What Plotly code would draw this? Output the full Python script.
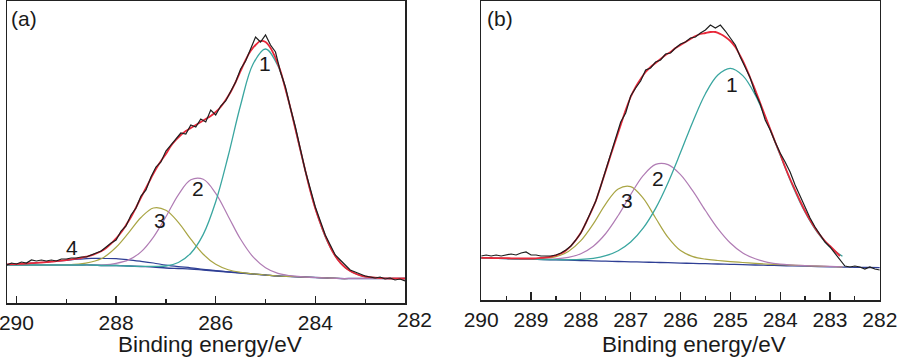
import plotly.graph_objects as go

# ---------------- Panel (a) ----------------
E_A = [290.2, 290.0, 289.75, 289.5, 289.25, 289.0, 288.75, 288.5, 288.25, 288.0,
       287.75, 287.5, 287.25, 287.0, 286.75, 286.5, 286.25, 286.0, 285.75, 285.5,
       285.25, 285.0, 284.75, 284.5, 284.25, 284.0, 283.75, 283.5, 283.25, 283.0,
       282.75, 282.5, 282.2]
BASE_A = [38, 38, 38, 38, 38, 38, 38, 38, 37.5, 37.5,
          37, 36.5, 36, 35, 34.5, 34, 33, 32, 31, 30,
          29, 28, 27, 26.5, 26, 25.5, 25, 24.5, 24.5, 24.5,
          24.5, 24.5, 24.5]
PEAK1_A = [38, 38, 38, 38, 38, 38, 38, 38, 37.5, 37.5,
           37, 36.6, 36.6, 37, 40.5, 49.8, 68.6, 101.2, 147, 198,
           239, 254, 237, 194.5, 142, 94.5, 60.6, 40.3, 30.5, 26.5,
           25.1, 24.5, 24.5]
PEAK2_A = [38, 38, 38, 38, 38, 38, 38, 38, 38.1, 39.6,
           43.1, 51.1, 65.9, 86.2, 108.2, 123.2, 123.7, 109.6, 86.8, 63.7,
           46.1, 35.3, 29.6, 27.3, 26.2, 25.5, 25, 24.5, 24.5, 24.5,
           24.5, 24.5, 24.5]
PEAK3_A = [38, 38, 38, 38, 38, 38.2, 38.9, 41, 45.6, 55.7,
           70.1, 85.5, 95, 92.8, 80.6, 63.8, 48.7, 38.7, 33.3, 30.7,
           29.2, 28, 27, 26.5, 26, 25.5, 25, 24.5, 24.5, 24.5,
           24.5, 24.5, 24.5]
PEAK4_A = [38.6, 38.9, 39.6, 40.5, 41.5, 42.7, 43.8, 44.6, 44.5, 44.3,
           43.2, 41.7, 40, 37.9, 36.4, 35.2, 33.7, 32.4, 31.2, 30,
           29, 28, 27, 26.5, 26, 25.5, 25, 24.5, 24.5, 24.5,
           24.5, 24.5, 24.5]

E_A_FINE = [290.2, 290.1, 290.0, 289.9, 289.8, 289.7, 289.6, 289.5, 289.4, 289.3,
            289.2, 289.1, 289.0, 288.9, 288.8, 288.7, 288.6, 288.5, 288.4, 288.3,
            288.2, 288.1, 288.0, 287.9, 287.8, 287.7, 287.6, 287.5, 287.4, 287.3,
            287.2, 287.1, 287.0, 286.9, 286.8, 286.7, 286.6, 286.5, 286.4, 286.3,
            286.2, 286.1, 286.0, 285.9, 285.8, 285.7, 285.6, 285.5, 285.4, 285.3,
            285.2, 285.1, 285.0, 284.9, 284.8, 284.7, 284.6, 284.5, 284.4, 284.3,
            284.2, 284.1, 284.0, 283.9, 283.8, 283.7, 283.6, 283.5, 283.4, 283.3,
            283.2, 283.1, 283.0, 282.9, 282.8, 282.7, 282.6, 282.5, 282.4, 282.3,
            282.2]
FIT_A = [38.6, 38.8, 38.9, 39.2, 39.5, 39.8, 40.1, 40.5, 40.9, 41.3,
         41.8, 42.3, 42.9, 43.6, 44.3, 45.2, 46.3, 47.6, 49.5, 51.8,
         55, 59.3, 64.6, 70.5, 78, 86, 95.5, 105.4, 115, 124.7,
         134, 142, 149, 157, 163, 168, 172, 175, 178, 181,
         184, 187, 191, 196, 203, 211, 221, 232, 243, 252,
         258, 262, 261, 255, 245, 232, 214, 195, 174, 153,
         132, 112, 94.5, 80, 67, 56, 47, 40.3, 35.5, 32,
         29.5, 27.7, 26.5, 25.8, 25.3, 25, 24.7, 24.5, 24.5, 24.5,
         24.5]
DATA_A = [38, 40, 39, 41, 40, 43, 42, 43, 42, 43,
          42, 44, 44, 45, 45, 46, 46, 48, 50, 52,
          56, 60, 63, 72, 77, 88, 95, 107, 113, 126,
          136, 141, 152, 158, 164, 170, 169, 178, 176, 184,
          181, 193, 188, 197, 202, 212, 221, 234, 242, 254,
          266, 261, 268, 258, 251, 231, 216, 195, 176, 154,
          132, 114, 96, 82, 68, 58, 48, 43, 38, 33,
          31, 29, 27, 26, 25, 26, 24, 25, 23, 24,
          22]

# ---------------- Panel (b) ----------------
E_B = [290.0, 289.75, 289.5, 289.25, 289.0, 288.75, 288.5, 288.25, 288.0, 287.75,
       287.5, 287.25, 287.0, 286.75, 286.5, 286.25, 286.0, 285.75, 285.5, 285.25,
       285.0, 284.75, 284.5, 284.25, 284.0, 283.75, 283.5, 283.25, 283.0, 282.75]
E_B_BASE = E_B + [282.5, 282.25, 282.0]
BASE_B = [42, 41.7, 41.4, 41, 40.7, 40.4, 40.1, 39.8, 39.5, 39.1,
          38.8, 38.5, 38.2, 37.9, 37.6, 37.3, 36.9, 36.6, 36.3, 36,
          35.7, 35.4, 35, 34.7, 34.4, 34.1, 33.8, 33.5, 33.2, 32.9,
          32.7, 32.5, 32.3]
PEAK1_B = [42, 41.7, 41.4, 41, 40.7, 40.5, 40.3, 40.3, 40.6, 41.7,
           44.3, 49.3, 58, 71.8, 91.6, 117.3, 147.4, 178.6, 206.3, 225,
           231.7, 224.4, 205, 176.7, 144.9, 114.1, 87.8, 67.4, 53, 43.7]
PEAK2_B = [42.1, 41.8, 41.5, 41.2, 41, 40.9, 41.1, 42.6, 46.3, 53.8,
           66.5, 84.5, 105.4, 124.4, 135.6, 135.4, 125.4, 108.8, 89.5, 71.4,
           57, 47, 41.2, 37.7, 35.8, 35, 34.4, 34, 33.6, 33.2]
PEAK3_B = [42.1, 41.8, 41.6, 41.3, 41.2, 41.6, 43.3, 48.6, 59.3, 76.1,
           96.2, 111.1, 113.4, 101.8, 82, 62.6, 49.4, 43.4, 40.8, 39.5,
           38.4, 37.5, 36.6, 35.9, 35.3, 34.8, 34.3, 33.9, 33.5, 33.1]

E_B_FINE = [290.0, 289.9, 289.8, 289.7, 289.6, 289.5, 289.4, 289.3, 289.2, 289.1,
            289.0, 288.9, 288.8, 288.7, 288.6, 288.5, 288.4, 288.3, 288.2, 288.1,
            288.0, 287.9, 287.8, 287.7, 287.6, 287.5, 287.4, 287.3, 287.2, 287.1,
            287.0, 286.9, 286.8, 286.7, 286.6, 286.5, 286.4, 286.3, 286.2, 286.1,
            286.0, 285.9, 285.8, 285.7, 285.6, 285.5, 285.4, 285.3, 285.2, 285.1,
            285.0, 284.9, 284.8, 284.7, 284.6, 284.5, 284.4, 284.3, 284.2, 284.1,
            284.0, 283.9, 283.8, 283.7, 283.6, 283.5, 283.4, 283.3, 283.2, 283.1,
            283.0, 282.9, 282.8, 282.7, 282.6, 282.5, 282.4, 282.3, 282.2, 282.1,
            282.0]
FIT_B = [42.2, 42.1, 42, 41.9, 41.9, 41.8, 41.7, 41.6, 41.5, 41.5,
         41.5, 41.7, 42.1, 42.6, 43.4, 44.6, 46.5, 49.5, 54, 60,
         67.2, 77, 87.5, 99, 114, 129.4, 145, 160, 175, 190,
         203, 213, 221, 228, 233, 237, 241, 245, 248, 252,
         255, 258, 261, 264, 266, 267, 268, 268, 266, 263,
         259, 253, 244, 234, 222, 210, 197, 184, 171, 158,
         146, 133, 121, 110, 99, 89, 80, 72, 65, 59,
         54, 49, 44]
DATA_B = [44, 45, 44, 45, 44, 45, 46, 45, 47, 48,
          45, 45, 44, 44, 44, 45, 47, 50, 54, 60,
          67, 77, 88, 99, 114, 130, 145, 160, 178, 187,
          204, 212, 219, 230, 232, 238, 240, 246, 247, 252,
          256, 258, 262, 263, 267, 270, 275, 272, 275, 269,
          262, 255, 243, 232, 222, 207, 196, 180, 170, 158,
          147, 138, 128, 115, 104, 92, 82, 73, 66, 58,
          53, 47, 40, 34, 33, 34, 33, 31, 33, 31,
          30]

TICKS_A = [290, 288, 286, 284, 282]
MINOR_A = [289, 287, 285, 283]
TICKS_B = [290, 289, 288, 287, 286, 285, 284, 283, 282]
MINOR_B = [289.5, 288.5, 287.5, 286.5, 285.5, 284.5, 283.5, 282.5]
X_TITLE = "Binding energy/eV"

C_TEAL = "#3aa6a0"
C_PURPLE = "#b07cb4"
C_OLIVE = "#a9a544"
C_NAVY = "#2f3f95"
C_RED = "#e8283a"
C_BLACK = "#1e1e1e"

fig = go.Figure()

def line(x, y, color, width, xa, ya, shape="spline"):
    fig.add_trace(go.Scatter(x=x, y=y, mode="lines", xaxis=xa, yaxis=ya,
                             line=dict(color=color, width=width, shape=shape),
                             hoverinfo="skip", showlegend=False))

# panel a
line(E_A, BASE_A, C_NAVY, 1.3, "x", "y")
line(E_A, PEAK4_A, C_NAVY, 1.2, "x", "y")
line(E_A, PEAK3_A, C_OLIVE, 1.2, "x", "y")
line(E_A, PEAK2_A, C_PURPLE, 1.2, "x", "y")
line(E_A, PEAK1_A, C_TEAL, 1.3, "x", "y")
line(E_A_FINE, FIT_A, C_RED, 1.8, "x", "y")
line(E_A_FINE, DATA_A, C_BLACK, 1.2, "x", "y", shape="linear")

# panel b
line(E_B_BASE, BASE_B, C_NAVY, 1.3, "x2", "y2")
line(E_B, PEAK3_B, C_OLIVE, 1.2, "x2", "y2")
line(E_B, PEAK2_B, C_PURPLE, 1.2, "x2", "y2")
line(E_B, PEAK1_B, C_TEAL, 1.3, "x2", "y2")
line(E_B_FINE[:len(FIT_B)], FIT_B, C_RED, 1.8, "x2", "y2")
line(E_B_FINE, DATA_B, C_BLACK, 1.2, "x2", "y2", shape="linear")

W, H = 900, 359
def px(x):
    return x / W
def py(y):
    return 1 - y / H

tickfont = dict(family="Liberation Sans, Arial, sans-serif", size=21, color="#1a1a1a")
axis_common = dict(showline=True, linecolor="#222", linewidth=1.5, mirror=True,
                   showgrid=False, zeroline=False, automargin=False)

fig.update_layout(
    template="none",
    width=W, height=H, margin=dict(l=0, r=0, t=0, b=0, pad=0, autoexpand=False),
    paper_bgcolor="white", plot_bgcolor="white", showlegend=False,
    xaxis=dict(domain=[px(7), px(405)], range=[290.19, 282.2], anchor="y",
               tickmode="array", tickvals=TICKS_A, ticktext=[str(t) for t in TICKS_A],
               ticks="inside", ticklen=7, tickwidth=1.3, tickcolor="#222",
               ticklabeloverflow="allow",
               minor=dict(tickmode="array", tickvals=MINOR_A, ticks="inside", ticklen=4,
                          tickwidth=1.2, tickcolor="#222", showgrid=False),
               tickfont=tickfont, **axis_common),
    yaxis=dict(domain=[py(303), py(1)], range=[0, 302], anchor="x",
               showticklabels=False, ticks="", **axis_common),
    xaxis2=dict(domain=[px(481.2), px(879.8)], range=[290, 282], anchor="y2",
                tickmode="array", tickvals=TICKS_B, ticktext=[str(t) for t in TICKS_B],
                ticks="inside", ticklen=8, tickwidth=1.3, tickcolor="#222",
                ticklabeloverflow="allow",
                minor=dict(tickmode="array", tickvals=MINOR_B, ticks="inside", ticklen=4,
                           tickwidth=1.2, tickcolor="#222", showgrid=False),
                tickfont=tickfont, **axis_common),
    yaxis2=dict(domain=[py(300), py(1)], range=[0, 299], anchor="x2",
                showticklabels=False, ticks="", **axis_common),
)

def note(text, x, y, size, family="Liberation Sans, Arial, sans-serif", color="#1a1a1a"):
    fig.add_annotation(text=text, x=px(x), y=py(y), xref="paper", yref="paper",
                       showarrow=False, xanchor="center", yanchor="middle",
                       font=dict(family=family, size=size, color=color))

note(X_TITLE, 209.5, 344, 22.5)
note(X_TITLE, 694, 344, 22.5)
note("282", 414, 319, 21)
note("(a)", 24, 18, 21)
note("(b)", 500, 18, 21)
note("1", 265, 63, 21)
note("2", 198, 188, 21)
note("3", 160, 220, 21)
note("4", 72, 247, 21)
note("1", 732, 85, 21)
note("2", 658, 178, 21)
note("3", 627, 200, 21)

fig.write_html("out.html", config={"displayModeBar": False, "staticPlot": True},
               post_script="document.body.style.margin='0';document.body.style.overflow='hidden';")
